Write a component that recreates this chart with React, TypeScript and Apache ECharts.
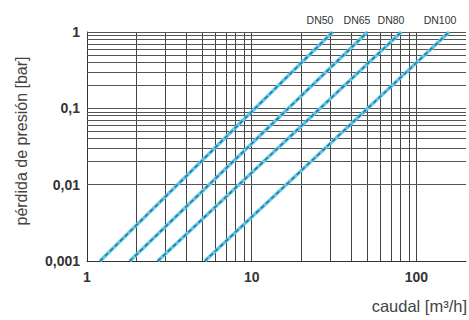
import React, { useEffect, useRef } from "react";
import * as echarts from "echarts";

const seriesNames = ["DN50", "DN65", "DN80", "DN100"];
// [caudal, pérdida] endpoints for each straight log-log line
const dn50 = [[1.2, 0.001], [31, 1]];
const dn65 = [[1.82, 0.001], [50.5, 1]];
const dn80 = [[2.69, 0.001], [81, 1]];
const dn100 = [[5.19, 0.001], [158, 1]];
const seriesData = [dn50, dn65, dn80, dn100];

const xGrid = [2, 3, 4, 5, 6, 7, 8, 9, 10, 20, 30, 40, 50, 60, 70, 80, 90, 100];
const yGrid = [
  0.002, 0.003, 0.004, 0.005, 0.006, 0.007, 0.008, 0.009, 0.01,
  0.02, 0.03, 0.04, 0.05, 0.06, 0.07, 0.08, 0.09, 0.1,
  0.2, 0.3, 0.4, 0.5, 0.6, 0.7, 0.8, 0.9, 1,
];
const xTickLabels: Record<string, string> = { "1": "1", "10": "10", "100": "100" };
const yTickLabels: Record<string, string> = { "0.001": "0,001", "0.01": "0,01", "0.1": "0,1", "1": "1" };
const labelX = [320, 357, 391, 440];

function lookup(map: Record<string, string>, v: number) {
  const keys = Object.keys(map);
  for (const k of keys) {
    if (Math.abs(Math.log10(v) - Math.log10(parseFloat(k))) < 1e-6) return map[k];
  }
  return "";
}

export default function App() {
  const ref = useRef<HTMLDivElement>(null);
  useEffect(() => {
    const chart = echarts.init(ref.current!, null, { renderer: "svg" });
    const lines: any[] = [];
    seriesData.forEach((d, i) => {
      lines.push({
        type: "line",
        name: seriesNames[i],
        data: d,
        showSymbol: false,
        z: 5,
        lineStyle: { color: "#66c6e8", width: 3.5 },
      });
      lines.push({
        type: "line",
        name: seriesNames[i] + "_d",
        data: d,
        showSymbol: false,
        z: 6,
        lineStyle: { color: "#1d7c9e", width: 1.5, type: [4, 3] },
      });
    });
    chart.setOption({
      animation: false,
      grid: { left: 87, right: 2, top: 32, bottom: 59 },
      xAxis: {
        type: "log",
        logBase: 10,
        min: 1,
        max: 200,
        axisLine: { show: true, lineStyle: { color: "#333", width: 1 } },
        axisTick: { show: false },
        splitLine: { show: false },
        axisLabel: {
          formatter: (v: number) => lookup(xTickLabels, v),
          color: "#333",
          fontFamily: "Liberation Sans, Arial",
          fontWeight: "bold",
          fontSize: 14,
          margin: 9,
          showMinLabel: true,
          showMaxLabel: true,
        },
      },
      yAxis: {
        type: "log",
        logBase: 10,
        min: 0.001,
        max: 1,
        axisLine: { show: true, lineStyle: { color: "#333", width: 1 } },
        axisTick: { show: false },
        splitLine: { show: false },
        axisLabel: {
          formatter: (v: number) => lookup(yTickLabels, v),
          color: "#333",
          fontFamily: "Liberation Sans, Arial",
          fontWeight: "bold",
          fontSize: 14,
          margin: 7,
        },
      },
      graphic: [
        ...seriesNames.map((n, i) => ({
          type: "text",
          x: labelX[i],
          y: 20,
          style: {
            text: n,
            fill: "#333",
            font: "10.5px 'Liberation Sans', Arial",
            textAlign: "center",
            textVerticalAlign: "middle",
          },
        })),
        {
          type: "text",
          x: 467,
          y: 306,
          style: {
            text: "caudal [m³/h]",
            fill: "#444",
            font: "16.5px 'Liberation Sans', Arial",
            textAlign: "right",
            textVerticalAlign: "middle",
          },
        },
        {
          type: "text",
          x: 21,
          y: 141,
          rotation: Math.PI / 2,
          style: {
            text: "pérdida de presión [bar]",
            fill: "#444",
            font: "16px 'Liberation Sans', Arial",
            textAlign: "center",
            textVerticalAlign: "middle",
          },
        },
      ],
      series: [
        {
          type: "line",
          name: "grid",
          data: [],
          z: 2,
          markLine: {
            silent: true,
            symbol: ["none", "none"],
            label: { show: false },
            lineStyle: { color: "#444", width: 1, type: "solid" },
            data: [
              ...xGrid.map((v) => ({ xAxis: v })),
              ...yGrid.map((v) => ({ yAxis: v, lineStyle: { color: "#555", width: 1, type: "solid" } })),
            ],
          },
        },
        ...lines,
      ],
    });
    return () => chart.dispose();
  }, []);
  return (
    <div
      ref={ref}
      style={{ position: "absolute", left: 0, top: 0, width: 469, height: 320 }}
    />
  );
}
